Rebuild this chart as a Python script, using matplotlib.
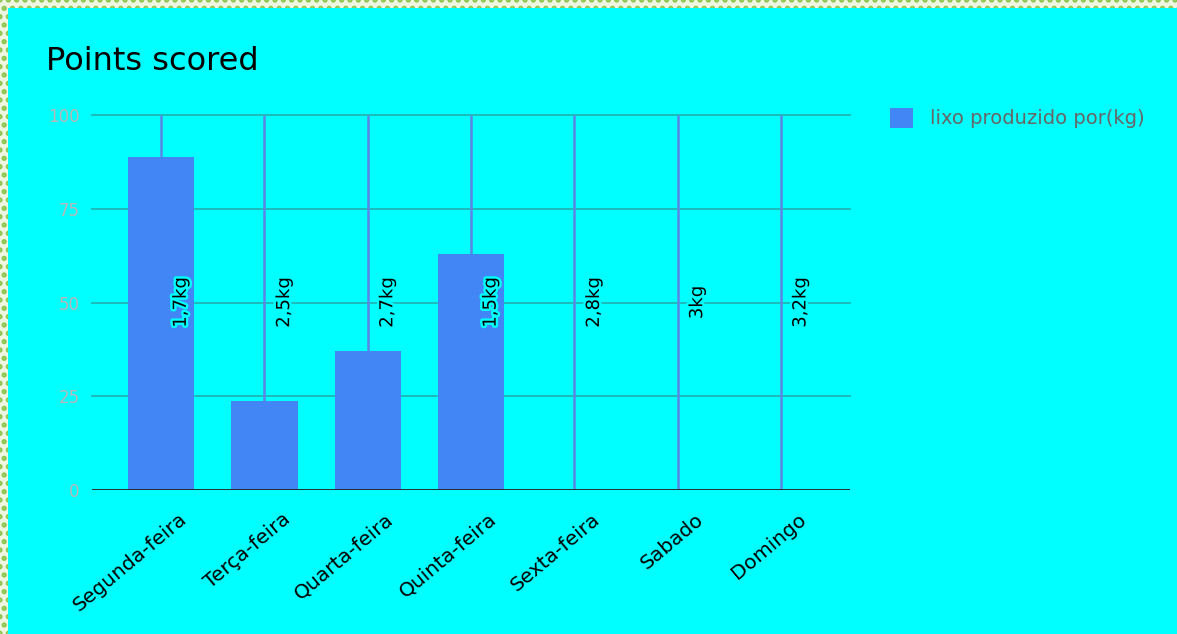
import matplotlib
matplotlib.use("Agg")
import matplotlib.pyplot as plt
import matplotlib.patheffects as pe
import matplotlib.transforms as mtrans
from matplotlib.patches import Rectangle
import numpy as np

plt.rcParams['font.family'] = ['DejaVu Sans']
plt.rcParams['hatch.linewidth'] = 2.5

# data
days = ['Segunda-feira', 'Terça-feira', 'Quarta-feira', 'Quinta-feira',
        'Sexta-feira', 'Sabado', 'Domingo']
points = [88.8, 23.7, 37.1, 62.9, 0, 0, 0]
kg_labels = ['1,7kg', '2,5kg', '2,7kg', '1,5kg', '2,8kg', '3kg', '3,2kg']
yticks = [0, 25, 50, 75, 100]

bg = '#00ffff'
bar_color = '#4285f4'

fig = plt.figure(figsize=(11.77, 6.34), dpi=100)
fig.patch.set_facecolor(bg)

# dotted frame on left and top
for r in [(0, 0, 8 / 1177, 1), (0, 1 - 8 / 634, 1, 8 / 634)]:
    fig.add_artist(Rectangle(r[:2], r[2], r[3], transform=fig.transFigure,
                             facecolor='#eef6e2', edgecolor='#8bc34a',
                             hatch='..', linewidth=0, zorder=10))

ax = fig.add_axes([0.0782, 0.2271, 0.6440, 0.5915])
ax.set_facecolor(bg)
x = np.arange(len(days))

# grid
for v in yticks[1:]:
    ax.axhline(v, color='#1fb5b5', lw=1.3, zorder=1, clip_on=False)
ax.vlines(x, 0, 100, color='#5c85e6', lw=1.8, zorder=1.5)

ax.bar(x, points, width=0.64, color=bar_color, zorder=2)
ax.axhline(0, color='#222222', lw=1.3, zorder=3)

for xi, lab in zip(x, kg_labels):
    ax.text(xi + 0.19, 50, lab, rotation=90, ha='center', va='center',
            fontsize=13, color='black', zorder=4,
            path_effects=[pe.withStroke(linewidth=3.5, foreground=bg)])

ax.set_xlim(-0.67, 6.67)
ax.set_ylim(0, 100)
ax.set_yticks(yticks)
ax.set_yticklabels([str(v) for v in yticks], color='#b8b8b8', fontsize=12)
ax.set_xticks(x)
ax.set_xticklabels(days, rotation=40, ha='right', rotation_mode='anchor',
                   fontsize=14.5, color='black')
ax.tick_params(axis='y', length=0, pad=9)
ax.tick_params(axis='x', length=0, pad=14)
shift = mtrans.ScaledTranslation(17 / 100, 0, fig.dpi_scale_trans)
for t in ax.get_xticklabels():
    t.set_transform(t.get_transform() + shift)
for s in ax.spines.values():
    s.set_visible(False)

fig.text(46 / 1177, 1 - 62 / 634, 'Points scored', fontsize=23,
         color='black', va='center', ha='left')

# legend
fig.add_artist(Rectangle((890 / 1177, 1 - 128 / 634), 23 / 1177, 20 / 634,
                         transform=fig.transFigure, facecolor=bar_color,
                         edgecolor='none'))
fig.text(930 / 1177, 1 - 119 / 634, 'lixo produzido por(kg)', fontsize=14,
         color='#666666', va='center', ha='left')

fig.savefig('out.png', dpi=100, facecolor=bg)
